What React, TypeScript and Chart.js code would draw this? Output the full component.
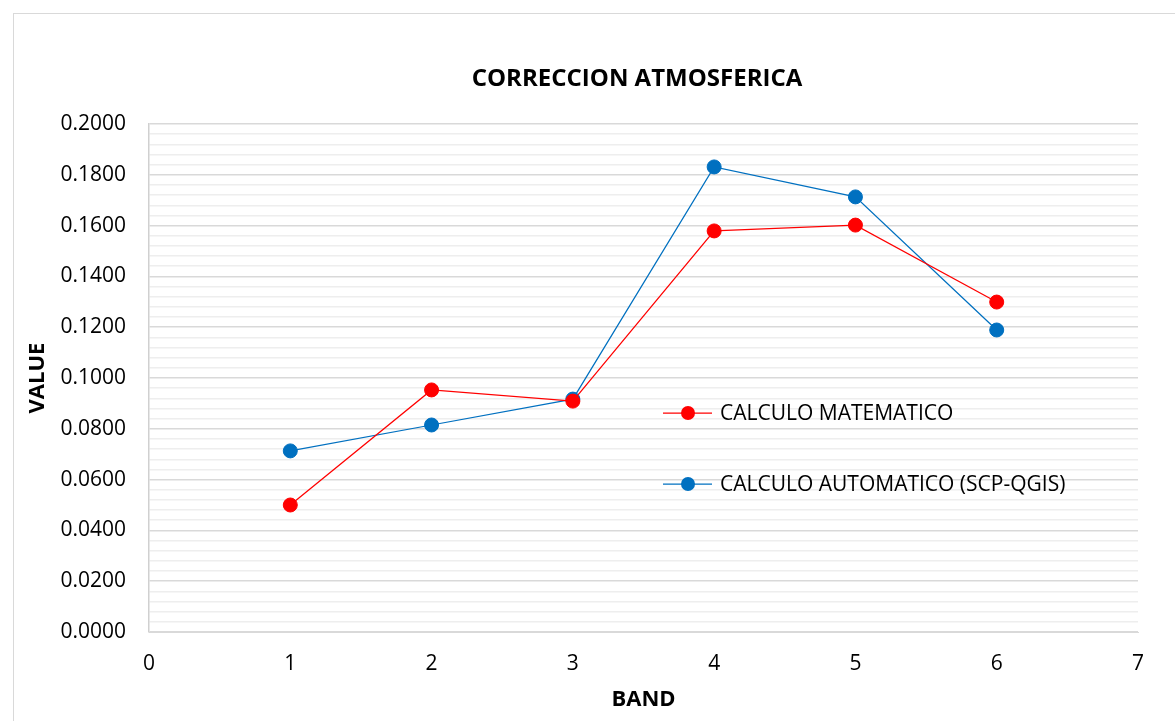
import React, { useEffect, useRef } from 'react';
import { Chart, registerables } from 'chart.js';

Chart.register(...registerables);

const bands = [1, 2, 3, 4, 5, 6];
const calculoMatematico = [0.05, 0.0953, 0.0909, 0.1579, 0.1602, 0.1299];
const calculoAutomatico = [0.0713, 0.0815, 0.0917, 0.1831, 0.1713, 0.1189];
const seriesNames = ['CALCULO MATEMATICO', 'CALCULO AUTOMATICO (SCP-QGIS)'];
const seriesColors = ['#FF0000', '#0070C0'];
const chartTitle = 'CORRECCION ATMOSFERICA';
const xAxisTitle = 'BAND';
const yAxisTitle = 'VALUE';
const xMin = 0;
const xMax = 7;
const yMin = 0;
const yMax = 0.2;
const yMajorStep = 0.02;
const yMinorStep = 0.004;

const FONT = '"Open Sans", "Noto Sans", sans-serif';

const isMajor = (v: number) => {
  const r = v / yMajorStep;
  return Math.abs(r - Math.round(r)) < 1e-6;
};

const decorPlugin = {
  id: 'decor',
  beforeDraw(chart: any) {
    const ctx = chart.ctx;
    ctx.save();
    ctx.fillStyle = '#ffffff';
    ctx.fillRect(0, 0, chart.width, chart.height);
    ctx.strokeStyle = '#d9d9d9';
    ctx.lineWidth = 1;
    ctx.strokeRect(13.5, 13.5, chart.width + 20, chart.height + 20);
    ctx.restore();
  },
  afterDraw(chart: any) {
    const ctx = chart.ctx;
    ctx.save();
    // title
    ctx.fillStyle = '#000000';
    ctx.font = `bold 24px ${FONT}`;
    ctx.textAlign = 'center';
    ctx.textBaseline = 'middle';
    ctx.fillText(chartTitle, 637, 79);
    // legend
    const items = [
      { name: seriesNames[0], color: seriesColors[0], y: 413 },
      { name: seriesNames[1], color: seriesColors[1], y: 484 },
    ];
    items.forEach((it) => {
      ctx.strokeStyle = it.color;
      ctx.lineWidth = 1.25;
      ctx.beginPath();
      ctx.moveTo(663, it.y);
      ctx.lineTo(712, it.y);
      ctx.stroke();
      ctx.fillStyle = it.color;
      ctx.beginPath();
      ctx.arc(688, it.y, 7, 0, Math.PI * 2);
      ctx.fill();
      ctx.fillStyle = '#000000';
      ctx.font = `21px ${FONT}`;
      ctx.textAlign = 'left';
      ctx.textBaseline = 'middle';
      ctx.fillText(it.name, 720, it.y + 1);
    });
    ctx.restore();
  },
};

export default function App() {
  const ref = useRef<HTMLCanvasElement | null>(null);

  useEffect(() => {
    document.body.style.margin = '0';
    const canvas = ref.current;
    if (!canvas) return;
    const toPoints = (vals: number[]) => bands.map((b, i) => ({ x: b, y: vals[i] }));
    const chart = new Chart(canvas, {
      type: 'line',
      data: {
        datasets: [
          {
            label: seriesNames[0],
            data: toPoints(calculoMatematico),
            borderColor: seriesColors[0],
            backgroundColor: seriesColors[0],
            borderWidth: 1.25,
            pointRadius: 7,
            pointBorderWidth: 1,
            pointBackgroundColor: seriesColors[0],
            pointBorderColor: seriesColors[0],
            tension: 0,
          },
          {
            label: seriesNames[1],
            data: toPoints(calculoAutomatico),
            borderColor: seriesColors[1],
            backgroundColor: seriesColors[1],
            borderWidth: 1.25,
            pointRadius: 7,
            pointBorderWidth: 1,
            pointBackgroundColor: seriesColors[1],
            pointBorderColor: seriesColors[1],
            tension: 0,
          },
        ],
      },
      options: {
        animation: false,
        responsive: false,
        maintainAspectRatio: false,
        layout: { padding: { top: 124, right: 37, left: 0, bottom: 0 } },
        plugins: {
          legend: { display: false },
          title: { display: false },
          tooltip: { enabled: false },
        },
        scales: {
          x: {
            type: 'linear',
            min: xMin,
            max: xMax,
            ticks: {
              stepSize: 1,
              color: '#000000',
              font: { family: FONT, size: 21 },
              padding: 19,
            },
            grid: { display: false, drawTicks: false },
            border: { display: true, color: '#d9d9d9', width: 1 },
            title: {
              display: true,
              text: xAxisTitle,
              color: '#000000',
              font: { family: FONT, size: 22, weight: 'bold' },
              padding: { top: 0, bottom: 8 },
            },
            afterFit: (scale: any) => {
              scale.height = 89;
            },
          },
          y: {
            type: 'linear',
            min: yMin,
            max: yMax,
            ticks: {
              stepSize: yMinorStep,
              autoSkip: false,
              color: '#000000',
              font: { family: FONT, size: 21 },
              padding: 23,
              callback: (v: any) => (isMajor(Number(v)) ? Number(v).toFixed(4) : ''),
            },
            grid: {
              drawTicks: false,
              color: (c: any) => (c.tick && isMajor(c.tick.value) ? '#d9d9d9' : '#eeeeee'),
              lineWidth: 1.5,
            },
            border: { display: true, color: '#d0d0d0', width: 1.5 },
            title: {
              display: true,
              text: yAxisTitle,
              color: '#000000',
              font: { family: FONT, size: 22, weight: 'bold' },
              padding: { top: 25, bottom: 0 },
            },
            afterFit: (scale: any) => {
              scale.width = 149;
            },
          },
        },
      },
      plugins: [decorPlugin],
    });
    return () => chart.destroy();
  }, []);

  return (
    <div style={{ position: 'absolute', left: 0, top: 0, width: 1175, height: 721 }}>
      <canvas ref={ref} width={1175} height={721} style={{ width: 1175, height: 721 }} />
    </div>
  );
}
